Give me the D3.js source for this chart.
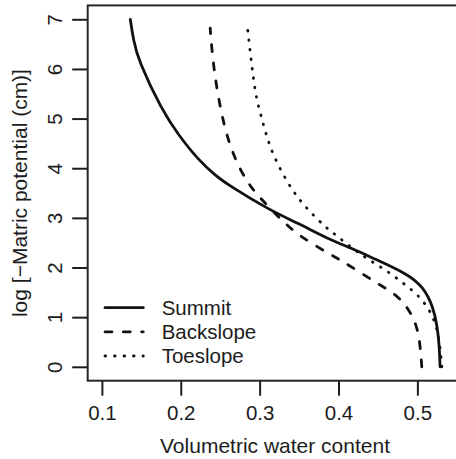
<!DOCTYPE html>
<html>
<head>
<meta charset="utf-8">
<script src="https://cdn.jsdelivr.net/npm/d3@7"></script>
<style>
  html, body { margin: 0; padding: 0; background: #fff; }
  svg { display: block; font-family: "Liberation Sans", Arial, Helvetica, sans-serif; }
</style>
</head>
<body>
<div id="chart"></div>
<script>
"use strict";

// [volumetric water content, log(-matric potential)]
var summit = [
    [0.136, 7.0], [0.140, 6.58], [0.146, 6.18], [0.176, 5.17], [0.197, 4.67],
    [0.2224, 4.165], [0.2435, 3.86], [0.2605, 3.66], [0.3125, 3.157], [0.3490, 2.89],
    [0.389, 2.56], [0.417, 2.386], [0.4442, 2.184], [0.4866, 1.88], [0.5076, 1.61],
    [0.520, 1.21], [0.5254, 0.806], [0.5279, 0.40], [0.5288, 0.0]
];
var backslope = [
    [0.2373, 6.82], [0.2415, 5.98], [0.2542, 4.84], [0.269, 4.165], [0.2838, 3.73],
    [0.2985, 3.43], [0.330, 2.92], [0.349, 2.65], [0.387, 2.285], [0.4062, 2.116],
    [0.4295, 1.88], [0.4527, 1.646], [0.4739, 1.445], [0.4886, 1.177], [0.4992, 0.84],
    [0.5034, 0.47], [0.5056, 0.0]
];
var toeslope = [
    [0.2838, 6.94], [0.288, 6.35], [0.2922, 5.78], [0.2964, 5.37], [0.3028, 5.0],
    [0.309, 4.63], [0.3175, 4.25], [0.3345, 3.73], [0.349, 3.39], [0.364, 3.12],
    [0.383, 2.82], [0.3915, 2.72], [0.421, 2.34], [0.442, 2.12], [0.4633, 1.914],
    [0.4823, 1.68], [0.5013, 1.445], [0.516, 1.14], [0.5246, 0.806], [0.529, 0.40],
    [0.531, 0.0]
];

var seriesNames = ['Summit', 'Backslope', 'Toeslope'];
var xTicks = [0.1, 0.2, 0.3, 0.4, 0.5];
var yTicks = [0, 1, 2, 3, 4, 5, 6, 7];
var xTitle = 'Volumetric water content';
var yTitle = 'log [\u2212Matric potential (cm)]';

var width = 456, height = 459;
var margin = { left: 87.7, top: 5.4, right: -15, bottom: 78.3 };

var dashes = {
    Summit: null,
    Backslope: '7 11.3',
    Toeslope: '0.6 8.9'
};

var svg = d3.select('#chart')
    .append('svg')
    .attr('width', width)
    .attr('height', height);

var x = d3.scaleLinear()
    .domain([0.082, 0.568])
    .range([margin.left, width - margin.right]);

var y = d3.scaleLinear()
    .domain([-0.28, 7.28])
    .range([height - margin.bottom, margin.top]);

var ink = '#1c1c1c';

// x axis
var xAxis = svg.append('g')
    .attr('transform', 'translate(0,' + y.range()[0] + ')')
    .call(d3.axisBottom(x).tickValues(xTicks).tickSize(15).tickFormat(d3.format('.1f')));

xAxis.select('.domain').remove();
xAxis.selectAll('line').attr('stroke', ink).attr('stroke-width', 2);
xAxis.selectAll('text')
    .attr('y', 39.3)
    .attr('dy', 0)
    .attr('fill', ink)
    .style('font-size', '20.5px')
    .style('font-family', '"Liberation Sans", Arial, sans-serif');

// y axis, labels turned like R's default
var yAxis = svg.append('g')
    .attr('transform', 'translate(' + x.range()[0] + ',0)')
    .call(d3.axisLeft(y).tickValues(yTicks).tickSize(15.5).tickFormat(d3.format('d')));

yAxis.select('.domain').remove();
yAxis.selectAll('line').attr('stroke', ink).attr('stroke-width', 2);
yAxis.selectAll('text')
    .attr('x', 0)
    .attr('dy', 0)
    .attr('text-anchor', 'middle')
    .attr('transform', 'translate(-26,0) rotate(-90)')
    .attr('fill', ink)
    .style('font-size', '20.5px')
    .style('font-family', '"Liberation Sans", Arial, sans-serif');

// box
svg.append('rect')
    .attr('x', x.range()[0])
    .attr('y', y.range()[1])
    .attr('width', x.range()[1] - x.range()[0])
    .attr('height', y.range()[0] - y.range()[1])
    .attr('fill', 'none')
    .attr('stroke', '#262626')
    .attr('stroke-width', 2);

// titles
svg.append('text')
    .attr('x', 275)
    .attr('y', 453)
    .attr('text-anchor', 'middle')
    .attr('fill', ink)
    .style('font-size', '21px')
    .text(xTitle);

svg.append('text')
    .attr('transform', 'translate(26.5,' + ((y.range()[0] + y.range()[1]) / 2) + ') rotate(-90)')
    .attr('text-anchor', 'middle')
    .attr('fill', ink)
    .style('font-size', '21px')
    .text(yTitle);

// curves
var line = d3.line()
    .x(function(d) { return x(d[0]); })
    .y(function(d) { return y(d[1]); })
    .curve(d3.curveBasis);

var series = [
    { name: 'Summit', values: summit },
    { name: 'Backslope', values: backslope },
    { name: 'Toeslope', values: toeslope }
];

svg.append('g')
    .selectAll('path')
    .data(series)
    .enter()
    .append('path')
    .attr('d', function(d) { return line(d.values.slice().reverse()); })
    .attr('fill', 'none')
    .attr('stroke', '#111')
    .attr('stroke-width', 2.8)
    .attr('stroke-linecap', 'round')
    .attr('stroke-dasharray', function(d) { return dashes[d.name]; });

// legend, no box
var legend = svg.append('g')
    .attr('transform', 'translate(105,307.7)');

var rows = legend.selectAll('g')
    .data(seriesNames)
    .enter()
    .append('g')
    .attr('transform', function(d, i) { return 'translate(0,' + (i * 24.15) + ')'; });

rows.append('line')
    .attr('x1', 0)
    .attr('x2', 38.3)
    .attr('stroke', '#111')
    .attr('stroke-width', 2.8)
    .attr('stroke-linecap', 'round')
    .attr('stroke-dasharray', function(d) { return dashes[d]; });

rows.append('text')
    .attr('x', 56.7)
    .attr('y', 7.3)
    .attr('fill', ink)
    .style('font-size', '20.5px')
    .text(function(d) { return d; });
</script>
</body>
</html>
